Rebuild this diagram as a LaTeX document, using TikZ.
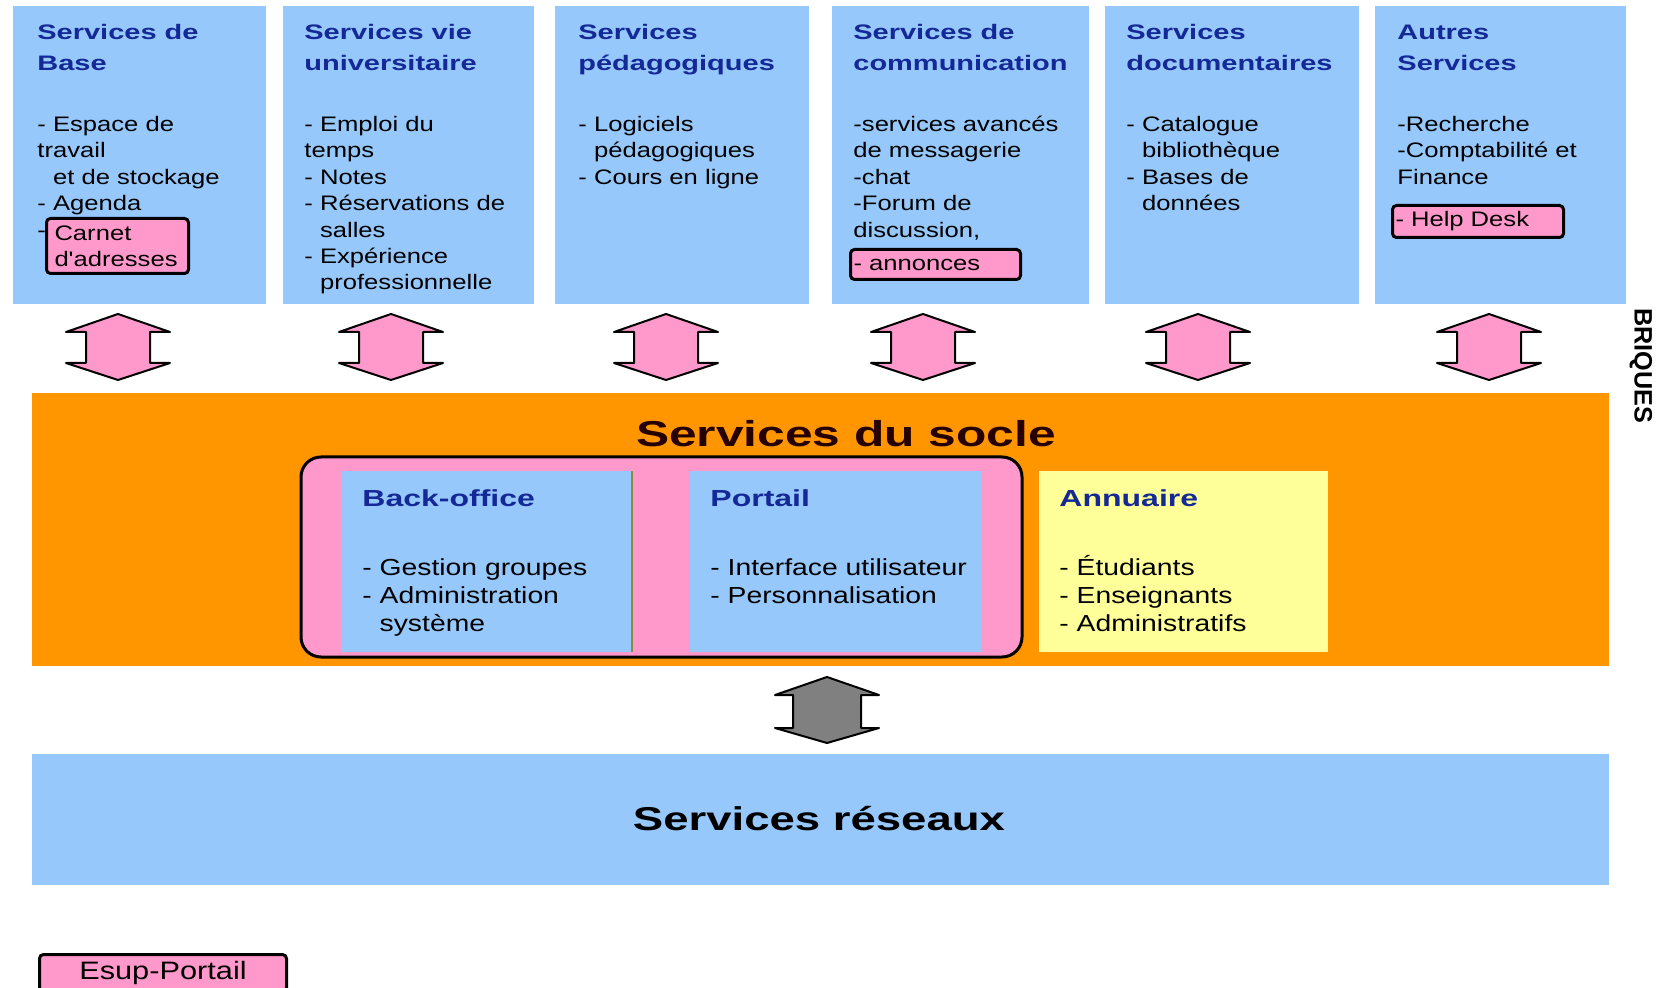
\documentclass[tikz,border=0pt]{standalone}
\usepackage{fontspec}
\usepackage{tikz}
\newfontfamily\txtfont{Liberation Sans}[FakeStretch=1.22]
\newfontfamily\ttlfont{Liberation Sans}[FakeStretch=1.38]
\newfontfamily\plainfont{Liberation Sans}
\definecolor{bleu}{RGB}{150,200,252}
\definecolor{rose}{RGB}{255,153,204}
\definecolor{orange}{RGB}{255,150,0}
\definecolor{jaune}{RGB}{255,255,153}
\definecolor{marine}{RGB}{20,40,150}
\definecolor{gris}{RGB}{128,128,128}
\tikzset{
  titre/.style={anchor=base west, align=left, inner sep=0pt, text=marine, font=\ttlfont\bfseries\fontsize{10.5}{15.5}\selectfont},
  texte/.style={anchor=base west, align=left, inner sep=0pt, font=\txtfont\fontsize{10.5}{13.2}\selectfont},
  soustitre/.style={titre, font=\ttlfont\bfseries\fontsize{11.6}{14}\selectfont},
  soustexte/.style={texte, font=\txtfont\fontsize{11.6}{14}\selectfont},
  surligne/.style={draw, line width=1.5pt, fill=rose, rounded corners=2pt, anchor=north west, align=left, inner ysep=0pt, font=\txtfont\fontsize{10.5}{13.2}\selectfont},
  fleche/.style={draw, line width=1pt, line join=round, fill=rose}
}
\begin{document}
\begin{tikzpicture}[x=0.5pt,y=-0.5pt]
	\useasboundingbox (0,0) rectangle (1658,988);
	\clip (0,0) rectangle (1658,988);
	% briques du haut (base = ligne du bas)
	\foreach \xa/\xb in {13/266,283/534,555/809,832/1089,1105/1359,1375/1626}
		\fill[bleu] (\xa,6) rectangle (\xb,304);
	\node[titre] (base-t) at (37,70.5) {Services de\\Base};
	\node[texte] (base) at (37,237.1) {- Espace de\\travail\\\hphantom{- }et de stockage\\- Agenda\\-};
	\node[surligne, inner xsep=4pt, text width=63pt, minimum height=27.5pt] (carnet) at (45,217) {Carnet\\d'adresses};
	\node[titre] (vie-t) at (304,70.5) {Services vie\\universitaire};
	\node[texte] (vie) at (304,289.9) {- Emploi du\\temps\\- Notes\\- Réservations de\\\hphantom{- }salles\\- Expérience\\\hphantom{- }professionnelle};
	\node[titre] (peda-t) at (578,70.5) {Services\\pédagogiques};
	\node[texte] (peda) at (578,184.3) {- Logiciels\\\hphantom{- }pédagogiques\\- Cours en ligne};
	\node[titre] (comm-t) at (853,70.5) {Services de\\communication};
	\node[texte] (comm) at (853,237.1) {-services avancés\\de messagerie\\-chat\\-Forum de\\discussion,};
	\node[surligne, inner xsep=1.5pt, text width=82pt, minimum height=15pt] (annonces) at (849,248) {- annonces};
	\node[titre] (docu-t) at (1126,70.5) {Services\\documentaires};
	\node[texte] (docu) at (1126,210.7) {- Catalogue\\\hphantom{- }bibliothèque\\- Bases de\\\hphantom{- }données};
	\node[titre] (autres-t) at (1397,70.5) {Autres\\Services};
	\node[texte] (autres) at (1397,184.3) {-Recherche\\-Comptabilité et\\Finance};
	\node[surligne, inner xsep=1.5pt, text width=82.5pt, minimum height=16pt] (helpdesk) at (1391,204) {- Help Desk};
	\node[font=\plainfont\bfseries\fontsize{12.6}{14}\selectfont, rotate=-90] (briques) at (1641,366) {BRIQUES};
	% fleches briques / socle
	\foreach \c in {118,391,666,923,1198,1489}
		\draw[fleche] (\c,314) -- ++(52,18) -- ++(-20,0) -- ++(0,31) -- ++(20,0) -- ++(-52,17) -- ++(-52,-17) -- ++(20,0) -- ++(0,-31) -- ++(-20,0) -- cycle;
	% socle
	\fill[orange] (32,393) rectangle (1609,666);
	\node[anchor=base, inner sep=0pt, text=black!85!red, font=\ttlfont\bfseries\fontsize{18}{20}\selectfont] (socle) at (846,447) {Services du socle};
	\draw[line width=1.5pt, fill=rose, rounded corners=10pt] (301,457) rectangle (1022,657);
	\fill[bleu] (342,471) rectangle (633,652);
	\fill[bleu] (690,471) rectangle (982,652);
	\draw[olive!60!gray, line width=0.6pt] (632,471) -- (632,652);
	\fill[jaune] (1039,471) rectangle (1328,652);
	\node[soustitre] (backoffice-t) at (362,506) {Back-office};
	\node[soustexte] (backoffice) at (362,631) {- Gestion groupes\\- Administration\\\hphantom{- }système};
	\node[soustitre] (portail-t) at (710,506) {Portail};
	\node[soustexte] (portail) at (710,603) {- Interface utilisateur\\- Personnalisation};
	\node[soustitre] (annuaire-t) at (1059,506) {Annuaire};
	\node[soustexte] (annuaire) at (1059,631) {- Étudiants\\- Enseignants\\- Administratifs};
	% reseaux
	\draw[fleche, fill=gris] (827,677) -- ++(52,18) -- ++(-18,0) -- ++(0,33) -- ++(18,0) -- ++(-52,15) -- ++(-52,-15) -- ++(18,0) -- ++(0,-33) -- ++(-18,0) -- cycle;
	\fill[bleu] (32,754) rectangle (1609,885);
	\node[anchor=base, inner sep=0pt, font=\ttlfont\bfseries\fontsize{16.5}{18}\selectfont] (reseaux) at (819,830) {Services réseaux};
	% legende
	\node[surligne, align=center, minimum width=123.5pt, minimum height=18.5pt, font=\txtfont\fontsize{12.6}{14}\selectfont] (legende) at (38,953) {Esup-Portail};
\end{tikzpicture}
\end{document}
